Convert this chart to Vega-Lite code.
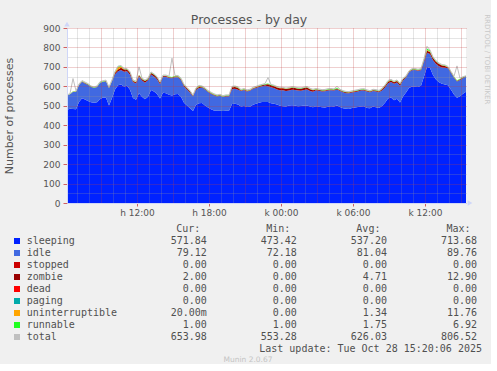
{
  "$schema": "https://vega.github.io/schema/vega-lite/v6.json",
  "background": "#f0f0f0",
  "padding": {"left": 3, "top": 14, "right": 0, "bottom": 0},
  "title": {"text": "RRDTOOL / TOBI OETIKER", "orient": "right", "anchor": "start", "offset": 2, "font": "DejaVu Sans", "fontSize": 7, "fontWeight": "normal", "color": "#c8c8c8"},
  "spacing": 6,
  "datasets": {
    "procs": [
      {"t":"2025-10-27T06:10Z","sleeping":480,"idle":72,"zombie":0,"uninterruptible":1,"runnable":1,"total":555},
      {"t":"2025-10-27T06:25Z","sleeping":485,"idle":74,"zombie":0,"uninterruptible":1,"runnable":2,"total":563},
      {"t":"2025-10-27T06:40Z","sleeping":484,"idle":88,"zombie":0,"uninterruptible":1,"runnable":2,"total":640},
      {"t":"2025-10-27T06:55Z","sleeping":482,"idle":89,"zombie":1,"uninterruptible":1,"runnable":2,"total":577},
      {"t":"2025-10-27T07:10Z","sleeping":520,"idle":86,"zombie":1,"uninterruptible":1,"runnable":2,"total":612},
      {"t":"2025-10-27T07:25Z","sleeping":539,"idle":84,"zombie":2,"uninterruptible":1,"runnable":2,"total":630},
      {"t":"2025-10-27T07:40Z","sleeping":532,"idle":83,"zombie":2,"uninterruptible":1,"runnable":2,"total":622},
      {"t":"2025-10-27T07:55Z","sleeping":525,"idle":82,"zombie":2,"uninterruptible":1,"runnable":2,"total":614},
      {"t":"2025-10-27T08:10Z","sleeping":518,"idle":78,"zombie":2,"uninterruptible":0,"runnable":2,"total":602},
      {"t":"2025-10-27T08:25Z","sleeping":516,"idle":76,"zombie":1,"uninterruptible":0,"runnable":2,"total":597},
      {"t":"2025-10-27T08:40Z","sleeping":518,"idle":78,"zombie":1,"uninterruptible":1,"runnable":2,"total":602},
      {"t":"2025-10-27T08:55Z","sleeping":534,"idle":84,"zombie":1,"uninterruptible":1,"runnable":2,"total":624},
      {"t":"2025-10-27T09:10Z","sleeping":543,"idle":80,"zombie":1,"uninterruptible":1,"runnable":2,"total":629},
      {"t":"2025-10-27T09:25Z","sleeping":541,"idle":84,"zombie":2,"uninterruptible":1,"runnable":2,"total":632},
      {"t":"2025-10-27T09:40Z","sleeping":502,"idle":88,"zombie":2,"uninterruptible":1,"runnable":2,"total":597},
      {"t":"2025-10-27T09:55Z","sleeping":540,"idle":86,"zombie":3,"uninterruptible":1,"runnable":2,"total":634},
      {"t":"2025-10-27T10:10Z","sleeping":584,"idle":78,"zombie":8,"uninterruptible":2,"runnable":3,"total":677},
      {"t":"2025-10-27T10:25Z","sleeping":605,"idle":72,"zombie":10,"uninterruptible":11,"runnable":4,"total":704},
      {"t":"2025-10-27T10:40Z","sleeping":610,"idle":74,"zombie":12,"uninterruptible":6,"runnable":3,"total":707},
      {"t":"2025-10-27T10:55Z","sleeping":599,"idle":76,"zombie":11,"uninterruptible":2,"runnable":2,"total":692},
      {"t":"2025-10-27T11:10Z","sleeping":603,"idle":74,"zombie":10,"uninterruptible":1,"runnable":2,"total":692},
      {"t":"2025-10-27T11:25Z","sleeping":582,"idle":78,"zombie":10,"uninterruptible":1,"runnable":2,"total":675},
      {"t":"2025-10-27T11:40Z","sleeping":540,"idle":82,"zombie":6,"uninterruptible":1,"runnable":2,"total":633},
      {"t":"2025-10-27T11:55Z","sleeping":531,"idle":84,"zombie":6,"uninterruptible":1,"runnable":2,"total":626},
      {"t":"2025-10-27T12:10Z","sleeping":564,"idle":86,"zombie":7,"uninterruptible":1,"runnable":2,"total":700},
      {"t":"2025-10-27T12:25Z","sleeping":546,"idle":84,"zombie":7,"uninterruptible":1,"runnable":2,"total":642},
      {"t":"2025-10-27T12:40Z","sleeping":533,"idle":86,"zombie":8,"uninterruptible":1,"runnable":2,"total":632},
      {"t":"2025-10-27T12:55Z","sleeping":547,"idle":84,"zombie":6,"uninterruptible":1,"runnable":2,"total":642},
      {"t":"2025-10-27T13:10Z","sleeping":581,"idle":80,"zombie":8,"uninterruptible":1,"runnable":2,"total":674},
      {"t":"2025-10-27T13:25Z","sleeping":573,"idle":78,"zombie":8,"uninterruptible":1,"runnable":2,"total":664},
      {"t":"2025-10-27T13:40Z","sleeping":561,"idle":76,"zombie":8,"uninterruptible":1,"runnable":2,"total":650},
      {"t":"2025-10-27T13:55Z","sleeping":537,"idle":74,"zombie":8,"uninterruptible":1,"runnable":2,"total":624},
      {"t":"2025-10-27T14:10Z","sleeping":567,"idle":82,"zombie":4,"uninterruptible":1,"runnable":2,"total":658},
      {"t":"2025-10-27T14:25Z","sleeping":565,"idle":84,"zombie":4,"uninterruptible":1,"runnable":2,"total":658},
      {"t":"2025-10-27T14:40Z","sleeping":557,"idle":86,"zombie":4,"uninterruptible":1,"runnable":2,"total":652},
      {"t":"2025-10-27T14:55Z","sleeping":553,"idle":88,"zombie":4,"uninterruptible":1,"runnable":2,"total":745},
      {"t":"2025-10-27T15:10Z","sleeping":559,"idle":88,"zombie":4,"uninterruptible":1,"runnable":2,"total":656},
      {"t":"2025-10-27T15:25Z","sleeping":561,"idle":86,"zombie":4,"uninterruptible":1,"runnable":2,"total":656},
      {"t":"2025-10-27T15:40Z","sleeping":547,"idle":86,"zombie":4,"uninterruptible":1,"runnable":2,"total":642},
      {"t":"2025-10-27T15:55Z","sleeping":515,"idle":84,"zombie":6,"uninterruptible":1,"runnable":2,"total":610},
      {"t":"2025-10-27T16:10Z","sleeping":502,"idle":82,"zombie":6,"uninterruptible":1,"runnable":2,"total":595},
      {"t":"2025-10-27T16:25Z","sleeping":487,"idle":80,"zombie":6,"uninterruptible":1,"runnable":2,"total":578},
      {"t":"2025-10-27T16:40Z","sleeping":473,"idle":76,"zombie":3,"uninterruptible":1,"runnable":1,"total":556},
      {"t":"2025-10-27T16:55Z","sleeping":505,"idle":76,"zombie":6,"uninterruptible":1,"runnable":2,"total":592},
      {"t":"2025-10-27T17:10Z","sleeping":513,"idle":78,"zombie":6,"uninterruptible":4,"runnable":2,"total":605},
      {"t":"2025-10-27T17:25Z","sleeping":514,"idle":80,"zombie":3,"uninterruptible":1,"runnable":2,"total":602},
      {"t":"2025-10-27T17:40Z","sleeping":502,"idle":82,"zombie":3,"uninterruptible":1,"runnable":2,"total":592},
      {"t":"2025-10-27T17:55Z","sleeping":491,"idle":80,"zombie":3,"uninterruptible":1,"runnable":2,"total":579},
      {"t":"2025-10-27T18:10Z","sleeping":482,"idle":80,"zombie":3,"uninterruptible":1,"runnable":2,"total":570},
      {"t":"2025-10-27T18:25Z","sleeping":476,"idle":78,"zombie":3,"uninterruptible":1,"runnable":2,"total":562},
      {"t":"2025-10-27T18:40Z","sleeping":474,"idle":74,"zombie":3,"uninterruptible":1,"runnable":2,"total":556},
      {"t":"2025-10-27T18:55Z","sleeping":475,"idle":76,"zombie":3,"uninterruptible":1,"runnable":2,"total":559},
      {"t":"2025-10-27T19:10Z","sleeping":473,"idle":72,"zombie":2,"uninterruptible":1,"runnable":2,"total":552},
      {"t":"2025-10-27T19:25Z","sleeping":474,"idle":74,"zombie":3,"uninterruptible":1,"runnable":2,"total":556},
      {"t":"2025-10-27T19:40Z","sleeping":474,"idle":74,"zombie":3,"uninterruptible":1,"runnable":2,"total":556},
      {"t":"2025-10-27T19:55Z","sleeping":509,"idle":76,"zombie":10,"uninterruptible":1,"runnable":2,"total":600},
      {"t":"2025-10-27T20:10Z","sleeping":511,"idle":76,"zombie":10,"uninterruptible":1,"runnable":2,"total":602},
      {"t":"2025-10-27T20:25Z","sleeping":507,"idle":76,"zombie":9,"uninterruptible":1,"runnable":2,"total":597},
      {"t":"2025-10-27T20:40Z","sleeping":496,"idle":80,"zombie":3,"uninterruptible":1,"runnable":2,"total":584},
      {"t":"2025-10-27T20:55Z","sleeping":499,"idle":82,"zombie":3,"uninterruptible":1,"runnable":2,"total":589},
      {"t":"2025-10-27T21:10Z","sleeping":494,"idle":80,"zombie":3,"uninterruptible":1,"runnable":2,"total":582},
      {"t":"2025-10-27T21:25Z","sleeping":495,"idle":82,"zombie":3,"uninterruptible":1,"runnable":2,"total":585},
      {"t":"2025-10-27T21:40Z","sleeping":505,"idle":82,"zombie":3,"uninterruptible":1,"runnable":2,"total":595},
      {"t":"2025-10-27T21:55Z","sleeping":510,"idle":82,"zombie":3,"uninterruptible":1,"runnable":2,"total":600},
      {"t":"2025-10-27T22:10Z","sleeping":515,"idle":82,"zombie":4,"uninterruptible":1,"runnable":2,"total":606},
      {"t":"2025-10-27T22:25Z","sleeping":519,"idle":82,"zombie":4,"uninterruptible":1,"runnable":2,"total":610},
      {"t":"2025-10-27T22:40Z","sleeping":520,"idle":84,"zombie":5,"uninterruptible":1,"runnable":2,"total":614},
      {"t":"2025-10-27T22:55Z","sleeping":519,"idle":82,"zombie":10,"uninterruptible":1,"runnable":2,"total":645},
      {"t":"2025-10-27T23:10Z","sleeping":513,"idle":82,"zombie":10,"uninterruptible":1,"runnable":2,"total":610},
      {"t":"2025-10-27T23:25Z","sleeping":511,"idle":80,"zombie":10,"uninterruptible":1,"runnable":2,"total":606},
      {"t":"2025-10-27T23:40Z","sleeping":506,"idle":78,"zombie":10,"uninterruptible":1,"runnable":2,"total":599},
      {"t":"2025-10-27T23:55Z","sleeping":500,"idle":80,"zombie":10,"uninterruptible":1,"runnable":2,"total":595},
      {"t":"2025-10-28T00:10Z","sleeping":498,"idle":82,"zombie":10,"uninterruptible":1,"runnable":2,"total":595},
      {"t":"2025-10-28T00:25Z","sleeping":496,"idle":80,"zombie":10,"uninterruptible":1,"runnable":2,"total":591},
      {"t":"2025-10-28T00:40Z","sleeping":501,"idle":78,"zombie":10,"uninterruptible":1,"runnable":2,"total":594},
      {"t":"2025-10-28T00:55Z","sleeping":503,"idle":80,"zombie":10,"uninterruptible":1,"runnable":2,"total":598},
      {"t":"2025-10-28T01:10Z","sleeping":501,"idle":80,"zombie":10,"uninterruptible":1,"runnable":2,"total":596},
      {"t":"2025-10-28T01:25Z","sleeping":498,"idle":80,"zombie":10,"uninterruptible":1,"runnable":2,"total":593},
      {"t":"2025-10-28T01:40Z","sleeping":499,"idle":78,"zombie":10,"uninterruptible":1,"runnable":2,"total":592},
      {"t":"2025-10-28T01:55Z","sleeping":501,"idle":80,"zombie":10,"uninterruptible":1,"runnable":2,"total":596},
      {"t":"2025-10-28T02:10Z","sleeping":502,"idle":82,"zombie":10,"uninterruptible":1,"runnable":2,"total":599},
      {"t":"2025-10-28T02:25Z","sleeping":496,"idle":80,"zombie":9,"uninterruptible":1,"runnable":2,"total":590},
      {"t":"2025-10-28T02:40Z","sleeping":492,"idle":80,"zombie":8,"uninterruptible":1,"runnable":2,"total":585},
      {"t":"2025-10-28T02:55Z","sleeping":498,"idle":82,"zombie":4,"uninterruptible":1,"runnable":2,"total":589},
      {"t":"2025-10-28T03:10Z","sleeping":495,"idle":82,"zombie":4,"uninterruptible":1,"runnable":2,"total":586},
      {"t":"2025-10-28T03:25Z","sleeping":492,"idle":82,"zombie":4,"uninterruptible":1,"runnable":2,"total":583},
      {"t":"2025-10-28T03:40Z","sleeping":491,"idle":84,"zombie":4,"uninterruptible":1,"runnable":2,"total":584},
      {"t":"2025-10-28T03:55Z","sleeping":495,"idle":84,"zombie":4,"uninterruptible":1,"runnable":2,"total":588},
      {"t":"2025-10-28T04:10Z","sleeping":498,"idle":82,"zombie":4,"uninterruptible":1,"runnable":2,"total":589},
      {"t":"2025-10-28T04:25Z","sleeping":496,"idle":82,"zombie":4,"uninterruptible":1,"runnable":2,"total":587},
      {"t":"2025-10-28T04:40Z","sleeping":502,"idle":82,"zombie":4,"uninterruptible":1,"runnable":4,"total":600},
      {"t":"2025-10-28T04:55Z","sleeping":494,"idle":82,"zombie":4,"uninterruptible":1,"runnable":2,"total":585},
      {"t":"2025-10-28T05:10Z","sleeping":487,"idle":82,"zombie":4,"uninterruptible":1,"runnable":2,"total":578},
      {"t":"2025-10-28T05:25Z","sleeping":485,"idle":80,"zombie":4,"uninterruptible":1,"runnable":2,"total":574},
      {"t":"2025-10-28T05:40Z","sleeping":484,"idle":80,"zombie":4,"uninterruptible":1,"runnable":2,"total":573},
      {"t":"2025-10-28T05:55Z","sleeping":488,"idle":80,"zombie":4,"uninterruptible":1,"runnable":2,"total":577},
      {"t":"2025-10-28T06:10Z","sleeping":491,"idle":80,"zombie":4,"uninterruptible":1,"runnable":2,"total":580},
      {"t":"2025-10-28T06:25Z","sleeping":494,"idle":80,"zombie":4,"uninterruptible":1,"runnable":2,"total":583},
      {"t":"2025-10-28T06:40Z","sleeping":496,"idle":82,"zombie":4,"uninterruptible":1,"runnable":2,"total":587},
      {"t":"2025-10-28T06:55Z","sleeping":497,"idle":82,"zombie":4,"uninterruptible":1,"runnable":2,"total":588},
      {"t":"2025-10-28T07:10Z","sleeping":489,"idle":84,"zombie":4,"uninterruptible":1,"runnable":2,"total":582},
      {"t":"2025-10-28T07:25Z","sleeping":487,"idle":82,"zombie":4,"uninterruptible":1,"runnable":2,"total":578},
      {"t":"2025-10-28T07:40Z","sleeping":496,"idle":80,"zombie":4,"uninterruptible":1,"runnable":2,"total":585},
      {"t":"2025-10-28T07:55Z","sleeping":492,"idle":82,"zombie":4,"uninterruptible":1,"runnable":2,"total":583},
      {"t":"2025-10-28T08:10Z","sleeping":488,"idle":82,"zombie":4,"uninterruptible":1,"runnable":2,"total":579},
      {"t":"2025-10-28T08:25Z","sleeping":499,"idle":80,"zombie":6,"uninterruptible":1,"runnable":2,"total":590},
      {"t":"2025-10-28T08:40Z","sleeping":516,"idle":78,"zombie":8,"uninterruptible":1,"runnable":2,"total":607},
      {"t":"2025-10-28T08:55Z","sleeping":538,"idle":78,"zombie":8,"uninterruptible":1,"runnable":3,"total":630},
      {"t":"2025-10-28T09:10Z","sleeping":542,"idle":80,"zombie":8,"uninterruptible":1,"runnable":3,"total":636},
      {"t":"2025-10-28T09:25Z","sleeping":529,"idle":84,"zombie":8,"uninterruptible":1,"runnable":2,"total":626},
      {"t":"2025-10-28T09:40Z","sleeping":536,"idle":84,"zombie":8,"uninterruptible":1,"runnable":2,"total":633},
      {"t":"2025-10-28T09:55Z","sleeping":517,"idle":86,"zombie":8,"uninterruptible":1,"runnable":2,"total":616},
      {"t":"2025-10-28T10:10Z","sleeping":548,"idle":82,"zombie":6,"uninterruptible":1,"runnable":2,"total":641},
      {"t":"2025-10-28T10:25Z","sleeping":568,"idle":78,"zombie":3,"uninterruptible":1,"runnable":2,"total":654},
      {"t":"2025-10-28T10:40Z","sleeping":592,"idle":80,"zombie":3,"uninterruptible":1,"runnable":2,"total":680},
      {"t":"2025-10-28T10:55Z","sleeping":599,"idle":84,"zombie":3,"uninterruptible":1,"runnable":2,"total":691},
      {"t":"2025-10-28T11:10Z","sleeping":598,"idle":86,"zombie":3,"uninterruptible":1,"runnable":2,"total":692},
      {"t":"2025-10-28T11:25Z","sleeping":596,"idle":84,"zombie":3,"uninterruptible":1,"runnable":2,"total":688},
      {"t":"2025-10-28T11:40Z","sleeping":603,"idle":80,"zombie":4,"uninterruptible":1,"runnable":2,"total":692},
      {"t":"2025-10-28T11:55Z","sleeping":650,"idle":76,"zombie":8,"uninterruptible":2,"runnable":4,"total":742},
      {"t":"2025-10-28T12:10Z","sleeping":699,"idle":74,"zombie":10,"uninterruptible":5,"runnable":7,"total":806},
      {"t":"2025-10-28T12:25Z","sleeping":694,"idle":72,"zombie":10,"uninterruptible":3,"runnable":5,"total":787},
      {"t":"2025-10-28T12:40Z","sleeping":658,"idle":76,"zombie":12,"uninterruptible":1,"runnable":3,"total":752},
      {"t":"2025-10-28T12:55Z","sleeping":635,"idle":80,"zombie":12,"uninterruptible":1,"runnable":2,"total":732},
      {"t":"2025-10-28T13:10Z","sleeping":621,"idle":82,"zombie":12,"uninterruptible":1,"runnable":2,"total":720},
      {"t":"2025-10-28T13:25Z","sleeping":613,"idle":84,"zombie":10,"uninterruptible":1,"runnable":2,"total":712},
      {"t":"2025-10-28T13:40Z","sleeping":609,"idle":86,"zombie":10,"uninterruptible":1,"runnable":2,"total":710},
      {"t":"2025-10-28T13:55Z","sleeping":605,"idle":88,"zombie":4,"uninterruptible":1,"runnable":2,"total":702},
      {"t":"2025-10-28T14:10Z","sleeping":583,"idle":86,"zombie":3,"uninterruptible":1,"runnable":2,"total":677},
      {"t":"2025-10-28T14:25Z","sleeping":558,"idle":86,"zombie":3,"uninterruptible":1,"runnable":2,"total":652},
      {"t":"2025-10-28T14:40Z","sleeping":541,"idle":84,"zombie":3,"uninterruptible":1,"runnable":2,"total":705},
      {"t":"2025-10-28T14:55Z","sleeping":549,"idle":84,"zombie":3,"uninterruptible":1,"runnable":2,"total":641},
      {"t":"2025-10-28T15:10Z","sleeping":562,"idle":80,"zombie":3,"uninterruptible":1,"runnable":2,"total":650},
      {"t":"2025-10-28T15:25Z","sleeping":572,"idle":79,"zombie":2,"uninterruptible":0,"runnable":1,"total":654}
    ],
    "legend": [
      {"name":"sleeping","Cur":"571.84","Min":"473.42","Avg":"537.20","Max":"713.68"},
      {"name":"idle","Cur":"79.12","Min":"72.18","Avg":"81.04","Max":"89.76"},
      {"name":"stopped","Cur":"0.00","Min":"0.00","Avg":"0.00","Max":"0.00"},
      {"name":"zombie","Cur":"2.00","Min":"0.00","Avg":"4.71","Max":"12.90"},
      {"name":"dead","Cur":"0.00","Min":"0.00","Avg":"0.00","Max":"0.00"},
      {"name":"paging","Cur":"0.00","Min":"0.00","Avg":"0.00","Max":"0.00"},
      {"name":"uninterruptible","Cur":"20.00m","Min":"0.00","Avg":"1.34","Max":"11.76"},
      {"name":"runnable","Cur":"1.00","Min":"1.00","Avg":"1.75","Max":"6.92"},
      {"name":"total","Cur":"653.98","Min":"553.28","Avg":"626.03","Max":"806.52"}
    ]
  },
  "vconcat": [
    {
      "width": 399,
      "height": 175,
      "view": {"fill": "white", "stroke": null},
      "title": {"text": "Processes - by day", "anchor": "middle", "frame": "group", "dx": -17.5, "offset": -15, "baseline": "alphabetic", "font": "DejaVu Sans", "fontSize": 12.5, "fontWeight": "normal", "color": "#555555"},
      "data": {"name": "procs"},
      "resolve": {"axis": {"x": "independent", "y": "independent"}},
      "layer": [
        {
          "transform": [
            {"fold": ["sleeping", "idle", "zombie", "uninterruptible", "runnable"], "as": ["series", "value"]},
            {"calculate": "indexof(['sleeping','idle','zombie','uninterruptible','runnable'], datum.series)", "as": "ord"}
          ],
          "mark": {"type": "area", "interpolate": "linear", "strokeWidth": 0, "opacity": 1},
          "encoding": {
            "x": {
              "field": "t", "type": "temporal",
              "scale": {"type": "utc", "domain": [{"year": 2025, "month": 10, "date": 27, "hours": 6, "minutes": 10, "utc": true}, {"year": 2025, "month": 10, "date": 28, "hours": 15, "minutes": 25, "utc": true}]},
              "axis": {
                "orient": "bottom",
                "title": null,
                "values": [
                  {"year": 2025, "month": 10, "date": 27, "hours": 12, "utc": true},
                  {"year": 2025, "month": 10, "date": 27, "hours": 18, "utc": true},
                  {"year": 2025, "month": 10, "date": 28, "hours": 0, "utc": true},
                  {"year": 2025, "month": 10, "date": 28, "hours": 6, "utc": true},
                  {"year": 2025, "month": 10, "date": 28, "hours": 12, "utc": true}
                ],
                "format": "%a %H:%M",
                "grid": true,
                "gridColor": "#c04040",
                "gridOpacity": 0.5,
                "gridDash": [1, 1],
                "tickColor": "#d06060",
                "tickSize": 3,
                "labelOverlap": false,
                "labelFlush": false,
                "labelPadding": 2,
                "labelFont": "DejaVu Sans",
                "labelFontSize": 9,
                "labelColor": "#555555",
                "domainColor": "#cfd6f8",
                "zindex": 2
              }
            },
            "y": {
              "field": "value", "type": "quantitative", "stack": "zero",
              "scale": {"domain": [0, 900], "nice": false},
              "axis": {
                "orient": "left",
                "title": "Number of processes",
                "titleFont": "DejaVu Sans",
                "titleFontSize": 11,
                "titleFontWeight": "normal",
                "titleColor": "#555555",
                "titlePadding": 28,
                "values": [0, 100, 200, 300, 400, 500, 600, 700, 800, 900],
                "grid": true,
                "gridColor": "#c04040",
                "gridOpacity": 0.5,
                "gridDash": [1, 1],
                "tickColor": "#d06060",
                "tickSize": 4,
                "labelPadding": 3,
                "labelOverlap": false,
                "labelFont": "DejaVu Sans",
                "labelFontSize": 9,
                "labelColor": "#555555",
                "domainColor": "#cfd6f8",
                "zindex": 2
              }
            },
            "color": {
              "field": "series", "type": "nominal",
              "scale": {"domain": ["sleeping", "idle", "stopped", "zombie", "dead", "paging", "uninterruptible", "runnable", "total"], "range": ["#0022ff", "#4169e1", "#cc0000", "#990000", "#ff0000", "#00aaaa", "#ffa500", "#22ff22", "#c0c0c0"]},
              "legend": null
            },
            "order": {"field": "ord", "type": "quantitative"}
          }
        },
        {
          "mark": {"type": "line", "color": "#c0c0c0", "strokeWidth": 1, "interpolate": "linear"},
          "encoding": {
            "x": {
              "field": "t", "type": "temporal",
              "axis": {
                "orient": "top", "title": null,
                "values": [
                  {"year": 2025, "month": 10, "date": 27, "hours": 7, "utc": true},
                  {"year": 2025, "month": 10, "date": 27, "hours": 8, "utc": true},
                  {"year": 2025, "month": 10, "date": 27, "hours": 10, "utc": true},
                  {"year": 2025, "month": 10, "date": 27, "hours": 11, "utc": true},
                  {"year": 2025, "month": 10, "date": 27, "hours": 13, "utc": true},
                  {"year": 2025, "month": 10, "date": 27, "hours": 14, "utc": true},
                  {"year": 2025, "month": 10, "date": 27, "hours": 16, "utc": true},
                  {"year": 2025, "month": 10, "date": 27, "hours": 17, "utc": true},
                  {"year": 2025, "month": 10, "date": 27, "hours": 19, "utc": true},
                  {"year": 2025, "month": 10, "date": 27, "hours": 20, "utc": true},
                  {"year": 2025, "month": 10, "date": 27, "hours": 22, "utc": true},
                  {"year": 2025, "month": 10, "date": 27, "hours": 23, "utc": true},
                  {"year": 2025, "month": 10, "date": 28, "hours": 1, "utc": true},
                  {"year": 2025, "month": 10, "date": 28, "hours": 2, "utc": true},
                  {"year": 2025, "month": 10, "date": 28, "hours": 4, "utc": true},
                  {"year": 2025, "month": 10, "date": 28, "hours": 5, "utc": true},
                  {"year": 2025, "month": 10, "date": 28, "hours": 7, "utc": true},
                  {"year": 2025, "month": 10, "date": 28, "hours": 8, "utc": true},
                  {"year": 2025, "month": 10, "date": 28, "hours": 10, "utc": true},
                  {"year": 2025, "month": 10, "date": 28, "hours": 11, "utc": true},
                  {"year": 2025, "month": 10, "date": 28, "hours": 13, "utc": true},
                  {"year": 2025, "month": 10, "date": 28, "hours": 14, "utc": true}
                ],
                "grid": true, "gridColor": "#999999", "gridOpacity": 0.5, "gridDash": [1, 1],
                "ticks": false, "labels": false, "domain": false, "minExtent": 0, "maxExtent": 0, "zindex": 1
              }
            },
            "y": {
              "field": "total", "type": "quantitative",
              "axis": {"orient": "right", "title": null, "values": [50, 150, 250, 350, 450, 550, 650, 750, 850], "grid": true, "gridColor": "#999999", "gridOpacity": 0.5, "gridDash": [1, 1], "ticks": false, "labels": false, "domain": false, "minExtent": 0, "maxExtent": 0, "zindex": 1}
            }
          }
        },
        {
          "mark": {"type": "line", "opacity": 0},
          "encoding": {
            "x": {
              "field": "t", "type": "temporal",
              "axis": {
                "orient": "top", "title": null,
                "values": [
                  {"year": 2025, "month": 10, "date": 27, "hours": 9, "utc": true},
                  {"year": 2025, "month": 10, "date": 27, "hours": 15, "utc": true},
                  {"year": 2025, "month": 10, "date": 27, "hours": 21, "utc": true},
                  {"year": 2025, "month": 10, "date": 28, "hours": 3, "utc": true},
                  {"year": 2025, "month": 10, "date": 28, "hours": 9, "utc": true},
                  {"year": 2025, "month": 10, "date": 28, "hours": 15, "utc": true}
                ],
                "grid": true, "gridColor": "#c04040", "gridOpacity": 0.5, "gridDash": [1, 1],
                "ticks": false, "labels": false, "domain": false, "minExtent": 0, "maxExtent": 0, "zindex": 2
              }
            },
            "y": {"field": "total", "type": "quantitative", "axis": null}
          }
        },
        {
          "data": {"values": [{"arrow": "y"}]},
          "mark": {"type": "point", "shape": "triangle-up", "filled": true, "size": 30, "color": "#cfd6f8", "opacity": 1},
          "encoding": {
            "x": {"datum": {"year": 2025, "month": 10, "date": 27, "hours": 6, "minutes": 10, "utc": true}, "type": "temporal", "axis": null},
            "y": {"datum": 920, "type": "quantitative", "axis": null}
          }
        },
        {
          "data": {"values": [{"arrow": "x"}]},
          "mark": {"type": "point", "shape": "triangle-right", "filled": true, "size": 30, "color": "#cfd6f8", "opacity": 1},
          "encoding": {
            "x": {"datum": {"year": 2025, "month": 10, "date": 28, "hours": 15, "minutes": 45, "utc": true}, "type": "temporal", "axis": null},
            "y": {"datum": 0, "type": "quantitative", "axis": null}
          }
        }
      ]
    },
    {
      "width": 410,
      "height": 132,
      "view": {"stroke": null},
      "title": {"text": "Munin 2.0.67", "orient": "bottom", "anchor": "middle", "frame": "group", "dx": -24, "offset": 1, "font": "DejaVu Sans", "fontSize": 7.5, "fontWeight": "normal", "color": "#c4c4c4"},
      "layer": [
        {
          "data": {"values": [{"col": "Cur", "label": "Cur:"}, {"col": "Min", "label": "Min:"}, {"col": "Avg", "label": "Avg:"}, {"col": "Max", "label": "Max:"}]},
          "mark": {"type": "text", "align": "right", "baseline": "middle", "dx": -6.5, "font": "DejaVu Sans Mono", "fontSize": 10, "color": "#505050"},
          "encoding": {
            "x": {"field": "col", "type": "nominal", "scale": {"type": "point", "domain": ["name", "gap", "Cur", "Min", "Avg", "Max"], "range": [-40.3, 410], "padding": 0}, "axis": null},
            "y": {"datum": "header", "type": "nominal", "scale": {"type": "point", "domain": ["header", "sleeping", "idle", "stopped", "zombie", "dead", "paging", "uninterruptible", "runnable", "total", "update"], "padding": 0.5}, "axis": null},
            "text": {"field": "label"}
          }
        },
        {
          "data": {"name": "legend"},
          "mark": {"type": "square", "size": 36, "filled": true, "opacity": 1, "xOffset": -9.7},
          "encoding": {
            "x": {"datum": "name", "type": "nominal", "scale": {"type": "point", "domain": ["name", "gap", "Cur", "Min", "Avg", "Max"], "range": [-40.3, 410], "padding": 0}, "axis": null},
            "y": {"field": "name", "type": "nominal", "scale": {"type": "point", "domain": ["header", "sleeping", "idle", "stopped", "zombie", "dead", "paging", "uninterruptible", "runnable", "total", "update"], "padding": 0.5}, "axis": null},
            "color": {
              "field": "name", "type": "nominal",
              "scale": {"domain": ["sleeping", "idle", "stopped", "zombie", "dead", "paging", "uninterruptible", "runnable", "total"], "range": ["#0022ff", "#4169e1", "#cc0000", "#990000", "#ff0000", "#00aaaa", "#ffa500", "#22ff22", "#c0c0c0"]},
              "legend": null
            }
          }
        },
        {
          "data": {"name": "legend"},
          "mark": {"type": "text", "align": "left", "baseline": "middle", "font": "DejaVu Sans Mono", "fontSize": 10, "color": "#505050"},
          "encoding": {
            "x": {"datum": "name", "type": "nominal", "scale": {"type": "point", "domain": ["name", "gap", "Cur", "Min", "Avg", "Max"], "range": [-40.3, 410], "padding": 0}, "axis": null},
            "y": {"field": "name", "type": "nominal", "scale": {"type": "point", "domain": ["header", "sleeping", "idle", "stopped", "zombie", "dead", "paging", "uninterruptible", "runnable", "total", "update"], "padding": 0.5}, "axis": null},
            "text": {"field": "name"}
          }
        },
        {
          "data": {"name": "legend"},
          "transform": [{"fold": ["Cur", "Min", "Avg", "Max"], "as": ["col", "v"]}],
          "mark": {"type": "text", "align": "right", "baseline": "middle", "font": "DejaVu Sans Mono", "fontSize": 10, "color": "#505050"},
          "encoding": {
            "x": {"field": "col", "type": "nominal", "scale": {"type": "point", "domain": ["name", "gap", "Cur", "Min", "Avg", "Max"], "range": [-40.3, 410], "padding": 0}, "axis": null},
            "y": {"field": "name", "type": "nominal", "scale": {"type": "point", "domain": ["header", "sleeping", "idle", "stopped", "zombie", "dead", "paging", "uninterruptible", "runnable", "total", "update"], "padding": 0.5}, "axis": null},
            "text": {"field": "v"}
          }
        },
        {
          "data": {"values": [{"label": "Last update: Tue Oct 28 15:20:06 2025"}]},
          "mark": {"type": "text", "align": "right", "baseline": "middle", "dx": 5, "font": "DejaVu Sans Mono", "fontSize": 10, "color": "#505050"},
          "encoding": {
            "x": {"datum": "Max", "type": "nominal", "scale": {"type": "point", "domain": ["name", "gap", "Cur", "Min", "Avg", "Max"], "range": [-40.3, 410], "padding": 0}, "axis": null},
            "y": {"datum": "update", "type": "nominal", "scale": {"type": "point", "domain": ["header", "sleeping", "idle", "stopped", "zombie", "dead", "paging", "uninterruptible", "runnable", "total", "update"], "padding": 0.5}, "axis": null},
            "text": {"field": "label"}
          }
        }
      ]
    }
  ],
  "config": {
    "view": {"stroke": null},
    "locale": {
      "time": {
        "dateTime": "%Y. %B %-e., %A %X",
        "date": "%Y. %m. %d.",
        "time": "%H:%M:%S",
        "periods": ["de.", "du."],
        "days": ["vasárnap", "hétfő", "kedd", "szerda", "csütörtök", "péntek", "szombat"],
        "shortDays": ["v", "h", "k", "sze", "cs", "p", "szo"],
        "months": ["január", "február", "március", "április", "május", "június", "július", "augusztus", "szeptember", "október", "november", "december"],
        "shortMonths": ["jan.", "feb.", "márc.", "ápr.", "máj.", "jún.", "júl.", "aug.", "szept.", "okt.", "nov.", "dec."]
      }
    }
  }
}
